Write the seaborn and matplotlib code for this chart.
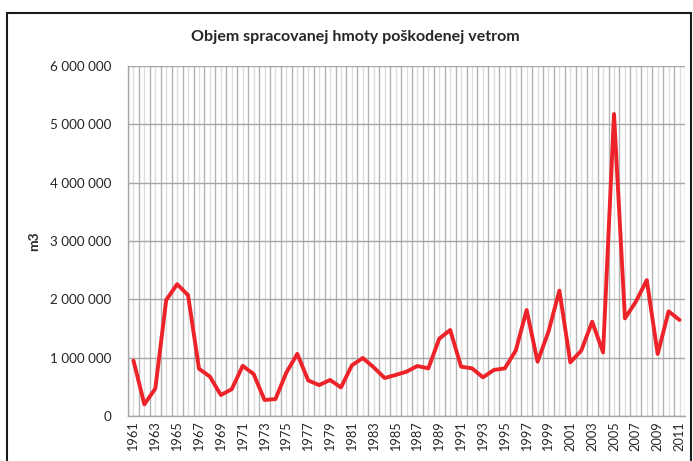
import matplotlib
matplotlib.use("Agg")
import matplotlib.pyplot as plt
from matplotlib.patches import Rectangle
from matplotlib.ticker import FuncFormatter, MultipleLocator, FixedLocator
import seaborn as sns
import pandas as pd

years = list(range(1961, 2012))
volume = [
    950000, 200000, 470000, 1990000, 2260000, 2070000, 810000, 675000, 360000, 460000,
    860000, 720000, 275000, 290000, 745000, 1065000, 610000, 530000, 617000, 490000,
    869000, 994000, 834000, 651000, 703000, 760000, 857000, 817000, 1326000, 1474000,
    846000, 817000, 663000, 789000, 817000, 1120000, 1817000, 931000, 1446000, 2150000,
    920000, 1120000, 1617000, 1090000, 5177000, 1674000, 1960000, 2330000, 1063000, 1794000,
    1646000,
]
title = "Objem spracovanej hmoty poškodenej vetrom"
ylabel = "m3"

df = pd.DataFrame({"rok": years, "objem": volume})

sns.set_style("white")
plt.rcParams["font.family"] = ["Lato", "DejaVu Sans"]

fig = plt.figure(figsize=(6.93, 4.61), dpi=100)
fig.patches.append(Rectangle((7 / 693, -0.1), (684 / 693), 1 - 13 / 461 + 0.1,
                             transform=fig.transFigure, fill=False,
                             edgecolor="#1a1a1a", linewidth=1.5))
ax = fig.add_axes([128 / 693, 45 / 461, 557 / 693, 350 / 461])

sns.lineplot(data=df, x="rok", y="objem", color="#ee2229", linewidth=2.8, ax=ax, zorder=5)

ax.set_xlim(years[0] - 0.5, years[-1] + 0.5)
ax.set_ylim(0, 6000000)
ax.yaxis.set_major_locator(MultipleLocator(1000000))
ax.yaxis.set_major_formatter(FuncFormatter(lambda v, p: f"{v:,.0f}".replace(",", " ")))

ax.xaxis.set_major_locator(FixedLocator(years))
ax.xaxis.set_major_formatter(FuncFormatter(lambda v, p: str(int(round(v))) if int(round(v)) % 2 == 1 else ""))
ax.xaxis.set_minor_locator(FixedLocator([y - 0.5 for y in years] + [years[-1] + 0.5]))

ax.grid(axis="y", which="major", color="#a6a6a6", linewidth=1)
ax.grid(axis="x", which="major", color="#dedede", linewidth=1)
ax.grid(axis="x", which="minor", color="#b3b3b3", linewidth=1)

for s in ["top", "right"]:
    ax.spines[s].set_visible(False)
for s in ["left", "bottom"]:
    ax.spines[s].set_color("#a6a6a6")
    ax.spines[s].set_linewidth(1)

ax.tick_params(axis="y", which="major", length=4, color="#a6a6a6", labelsize=9.7, pad=8)
ax.tick_params(axis="x", which="major", length=0, labelsize=9.2, labelrotation=90, pad=4)
ax.tick_params(axis="x", which="minor", length=4, color="#b3b3b3")

ax.set_xlabel("")
ax.set_ylabel(ylabel, fontsize=10, fontweight="bold")
ax.yaxis.set_label_coords(-0.158, 0.5)

fig.text(355 / 693, 1 - 37 / 461, title, ha="center", va="center",
         fontsize=11.5, fontweight="bold")

fig.savefig("out.png", dpi=100, facecolor="white")
